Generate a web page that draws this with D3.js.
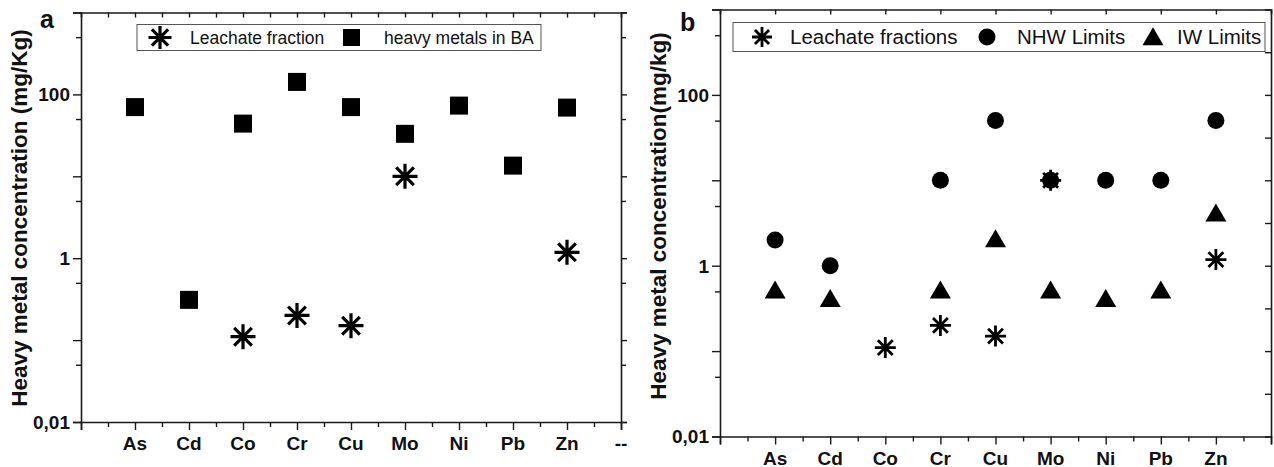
<!DOCTYPE html>
<html><head><meta charset="utf-8">
<script src="https://cdn.jsdelivr.net/npm/d3@7"></script>
<style>body{margin:0;background:#fff}svg{display:block}</style>
</head><body>
<svg id="c" width="1274" height="467"></svg>
<script>
// ---- data ----
const categories = ["As","Cd","Co","Cr","Cu","Mo","Ni","Pb","Zn"];
const baMetals   = [70, 0.31, 44, 142, 70, 33, 73, 13.5, 69];        // heavy metals in BA (panel a)
const leachate   = [null, null, 0.11, 0.2, 0.15, 10, null, null, 1.18]; // leachate fraction(s)
const nhwLimits  = [2, 1, null, 10, 50, 10, 10, 10, 50];
const iwLimits   = [0.5, 0.4, null, 0.5, 2, 0.5, 0.4, 0.5, 4];
const yTickValues = [0.01, 1, 100];
const yTickLabels = ["0,01", "1", "100"];
const xExtraLabelA = "--";

const svg = d3.select("#c");
const FONT = "'Liberation Sans', Arial, Helvetica, sans-serif";
const AX = "#1a1a1a";

function asteriskPath(r) {
  const p = d3.path();
  const d = r * Math.SQRT1_2;
  p.moveTo(0, -r); p.lineTo(0, r);
  p.moveTo(-r, 0); p.lineTo(r, 0);
  p.moveTo(-d, -d); p.lineTo(d, d);
  p.moveTo(-d, d); p.lineTo(d, -d);
  return p.toString();
}
function trianglePath(w, h) {
  const p = d3.path();
  p.moveTo(0, -h * 0.6); p.lineTo(w / 2, h * 0.4); p.lineTo(-w / 2, h * 0.4); p.closePath();
  return p.toString();
}

function drawPanel(cfg) {
  const x = d3.scaleLinear().domain([0, 10]).range([cfg.left, cfg.right]);
  const y = d3.scaleLog().domain([0.01, 1000]).range([cfg.bottom, cfg.top]);
  const g = svg.append("g");

  const decades = [0.01, 0.1, 1, 10, 100, 1000];
  const halves = [0.05, 0.5, 5, 50, 500];

  // left axis
  g.append("g").attr("transform", `translate(${cfg.left},0)`)
    .call(d3.axisLeft(y).tickValues(decades).tickSize(8).tickFormat(""));
  g.append("g").attr("transform", `translate(${cfg.left},0)`)
    .call(d3.axisLeft(y).tickValues(halves).tickSize(5).tickFormat("")).select(".domain").remove();
  g.selectAll(".ylab").data(yTickValues).join("text")
    .attr("x", cfg.left - 11).attr("y", d => y(d)).attr("dy", "0.36em")
    .attr("text-anchor", "end").attr("font-family", FONT).attr("font-weight", "bold")
    .attr("font-size", 19).attr("fill", "#111").text((d, i) => yTickLabels[i]);

  // right axis
  if (cfg.rightOut) {
    g.append("g").attr("transform", `translate(${cfg.right},0)`)
      .call(d3.axisRight(y).tickValues(decades).tickSize(6).tickFormat(""));
    g.append("g").attr("transform", `translate(${cfg.right},0)`)
      .call(d3.axisRight(y).tickValues(halves).tickSize(5).tickFormat("")).select(".domain").remove();
  } else {
    const rv = d3.range(-4, 6).map(k => Math.pow(10, k / 2)).filter(v => v > 0.011 && v < 999);
    g.append("g").attr("transform", `translate(${cfg.right},0)`)
      .call(d3.axisLeft(y).tickValues(rv).tickSize(6).tickFormat(""));
  }

  // bottom axis
  g.append("g").attr("transform", `translate(0,${cfg.bottom})`)
    .call(d3.axisBottom(x).tickValues(d3.range(0, 11)).tickSize(8).tickFormat(""));
  g.append("g").attr("transform", `translate(0,${cfg.bottom})`)
    .call(d3.axisBottom(x).tickValues(d3.range(0.5, 10, 1)).tickSize(5).tickFormat("")).select(".domain").remove();
  // top axis (ticks inward)
  g.append("g").attr("transform", `translate(0,${cfg.top})`)
    .call(d3.axisBottom(x).tickValues(cfg.topTicks).tickSize(5).tickFormat(""));

  g.selectAll(".domain").attr("stroke", AX).attr("stroke-width", 1.6);
  g.selectAll(".tick line").attr("stroke", AX).attr("stroke-width", 1.4);

  // category labels
  const labs = categories.map((c, i) => ({ t: c, v: i + 1 }));
  if (cfg.extraLabel) labs.push({ t: cfg.extraLabel, v: 10 });
  g.selectAll(".xlab").data(labs).join("text")
    .attr("x", d => x(d.v)).attr("y", cfg.bottom + 28)
    .attr("text-anchor", "middle").attr("font-family", FONT).attr("font-weight", "bold")
    .attr("font-size", 19).attr("fill", "#111").text(d => d.t);

  // y title
  g.append("text").attr("transform", `translate(${cfg.titleX},${cfg.titleY}) rotate(-90)`)
    .attr("text-anchor", "middle").attr("font-family", FONT).attr("font-weight", "bold")
    .attr("font-size", cfg.titleSize).attr("fill", "#111").text(cfg.title);
  // panel letter
  g.append("text").attr("x", cfg.letterX).attr("y", cfg.letterY)
    .attr("font-family", FONT).attr("font-weight", "bold").attr("font-size", 25)
    .attr("fill", "#111").text(cfg.letter);

  return { x, y, g };
}

// ---------- panel a ----------
const A = drawPanel({
  left: 81, right: 621, top: 12.5, bottom: 422, rightOut: true,
  topTicks: d3.range(0.5, 10, 0.5), extraLabel: xExtraLabelA,
  title: "Heavy metal concentration (mg/Kg)", titleX: 27, titleY: 218, titleSize: 22.5,
  letter: "a", letterX: 40, letterY: 28
});
const ptsBA = categories.map((c, i) => ({ i: i + 1, v: baMetals[i] }));
A.g.selectAll(".sq").data(ptsBA).join("rect")
  .attr("x", d => A.x(d.i) - 9).attr("y", d => A.y(d.v) - 9)
  .attr("width", 18).attr("height", 18).attr("fill", "#000");
const ptsLA = categories.map((c, i) => ({ i: i + 1, v: leachate[i] })).filter(d => d.v != null);
A.g.selectAll(".ast").data(ptsLA).join("path")
  .attr("transform", d => `translate(${A.x(d.i)},${A.y(d.v)})`)
  .attr("d", asteriskPath(12.5)).attr("stroke", "#000").attr("stroke-width", 3.2).attr("fill", "none");

// legend a
const la = A.g.append("g");
la.append("rect").attr("x", 137).attr("y", 24.5).attr("width", 404).attr("height", 26)
  .attr("fill", "#fff").attr("stroke", "#555").attr("stroke-width", 1);
la.append("path").attr("transform", "translate(160,37.5)").attr("d", asteriskPath(11.5))
  .attr("stroke", "#000").attr("stroke-width", 3.2).attr("fill", "none");
la.append("text").attr("x", 190).attr("y", 43.5).attr("font-family", FONT).attr("font-size", 17.5)
  .attr("fill", "#111").text("Leachate fraction");
la.append("rect").attr("x", 343).attr("y", 29).attr("width", 17).attr("height", 17).attr("fill", "#000");
la.append("text").attr("x", 384).attr("y", 43.5).attr("font-family", FONT).attr("font-size", 17.5)
  .attr("fill", "#111").text("heavy metals in BA");

// ---------- panel b ----------
const B = drawPanel({
  left: 720, right: 1271, top: 9.5, bottom: 436.5, rightOut: false,
  topTicks: d3.range(1, 10, 1), extraLabel: null,
  title: "Heavy metal concentration(mg/kg)", titleX: 666, titleY: 216, titleSize: 22.5,
  letter: "b", letterX: 680, letterY: 31
});
const ptsN = categories.map((c, i) => ({ i: i + 1, v: nhwLimits[i] })).filter(d => d.v != null);
B.g.selectAll(".ci").data(ptsN).join("circle")
  .attr("cx", d => B.x(d.i)).attr("cy", d => B.y(d.v)).attr("r", 8.5).attr("fill", "#000");
const ptsI = categories.map((c, i) => ({ i: i + 1, v: iwLimits[i] })).filter(d => d.v != null);
B.g.selectAll(".tr").data(ptsI).join("path")
  .attr("transform", d => `translate(${B.x(d.i)},${B.y(d.v)})`)
  .attr("d", trianglePath(21, 18)).attr("fill", "#000");
const ptsLB = categories.map((c, i) => ({ i: i + 1, v: leachate[i] })).filter(d => d.v != null);
B.g.selectAll(".ast").data(ptsLB).join("path")
  .attr("transform", d => `translate(${B.x(d.i)},${B.y(d.v)})`)
  .attr("d", asteriskPath(10.5)).attr("stroke", "#000").attr("stroke-width", 2.8).attr("fill", "none");

// legend b
const lb = B.g.append("g");
lb.append("rect").attr("x", 733).attr("y", 22.5).attr("width", 532).attr("height", 29)
  .attr("fill", "#fff").attr("stroke", "#555").attr("stroke-width", 1);
lb.append("path").attr("transform", "translate(762,37)").attr("d", asteriskPath(10))
  .attr("stroke", "#000").attr("stroke-width", 2.8).attr("fill", "none");
lb.append("text").attr("x", 790).attr("y", 44).attr("font-family", FONT).attr("font-size", 20.5)
  .attr("fill", "#111").text("Leachate fractions");
lb.append("circle").attr("cx", 987).attr("cy", 37).attr("r", 8.5).attr("fill", "#000");
lb.append("text").attr("x", 1017).attr("y", 44).attr("font-family", FONT).attr("font-size", 20.5)
  .attr("fill", "#111").text("NHW Limits");
lb.append("path").attr("transform", "translate(1153,38)").attr("d", trianglePath(21, 18)).attr("fill", "#000");
lb.append("text").attr("x", 1177).attr("y", 44).attr("font-family", FONT).attr("font-size", 20.5)
  .attr("fill", "#111").text("IW Limits");
</script>
</body></html>
